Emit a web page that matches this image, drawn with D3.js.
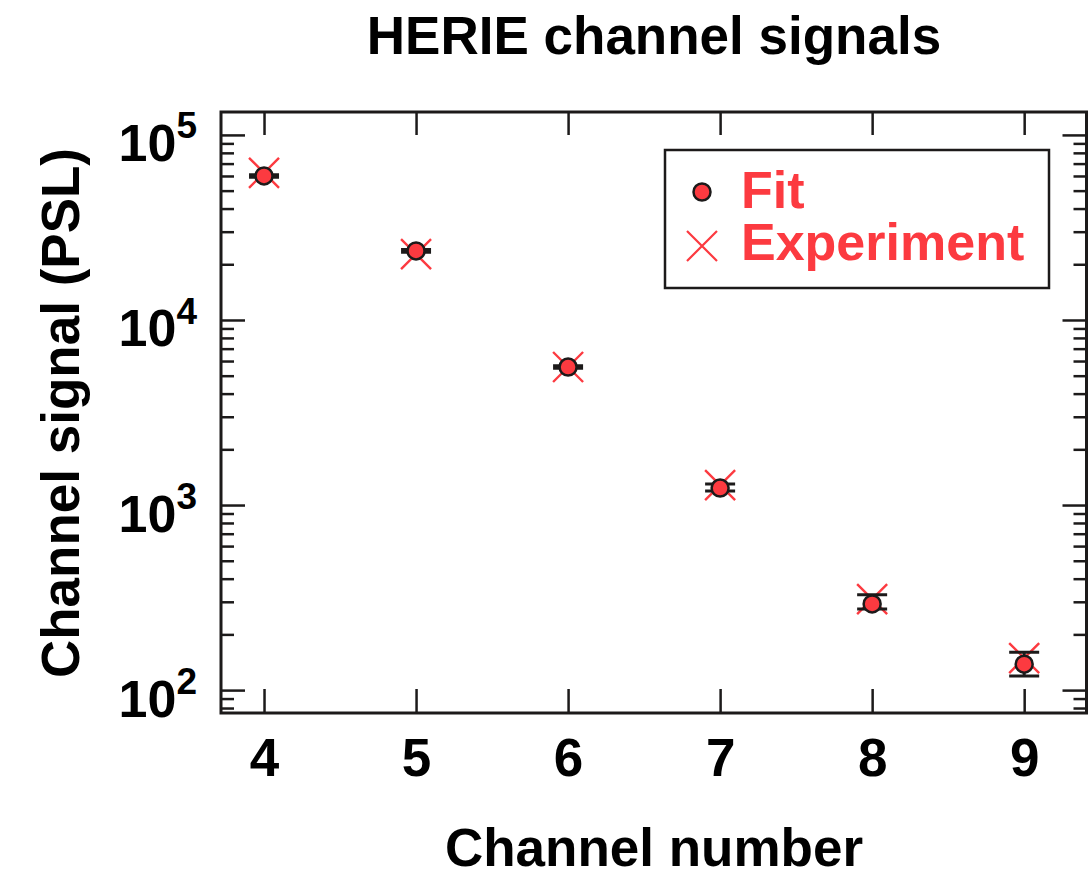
<!DOCTYPE html>
<html>
<head>
<meta charset="utf-8">
<script src="https://cdn.jsdelivr.net/npm/d3@7/dist/d3.min.js"></script>
<style>
  html, body { margin: 0; padding: 0; background: #fff; }
  svg { display: block; }
  text { font-family: "Liberation Sans", Arial, Helvetica, sans-serif; font-weight: bold; }
</style>
</head>
<body>
<svg id="chart" width="1088" height="877"></svg>
<script>
// HERIE channel signals: fitted vs. measured signal per channel (PSL)
const channels   = [4, 5, 6, 7, 8, 9];
const fitValues  = [60000, 23600, 5570, 1236, 292, 138];
const fitErrLow  = [59000, 23200, 5480, 1190, 274, 119];
const fitErrHigh = [61000, 24000, 5660, 1300, 327, 160];
const expValues  = [62400, 22700, 5570, 1282, 310, 149];
const xTicks     = [4, 5, 6, 7, 8, 9];
const yDecades   = [100, 1000, 10000, 100000];
const seriesNames = ["Fit", "Experiment"];

const RED = "#fc3a40";
const INK = "#1c1a1a";

const svg = d3.select("#chart");
const plot = { left: 221, right: 1086.5, top: 112, bottom: 713 };

const x = d3.scaleLinear().domain([3.717, 9.41]).range([plot.left, plot.right]);
const y = d3.scaleLog().domain([75.2, 133000]).range([plot.bottom, plot.top]);

// minor ticks at 2..9 within each decade that fall inside the domain
const yMinor = [];
[10, 100, 1000, 10000, 100000].forEach(d => {
  for (let k = 2; k <= 9; k++) {
    const v = d * k;
    if (v > y.domain()[0] && v < y.domain()[1]) yMinor.push(v);
  }
});

const frame = svg.append("g");

function styleAxis(g) {
  g.select(".domain").remove();
  g.selectAll(".tick line").attr("stroke", INK).attr("stroke-width", 2.5);
}

// bottom axis: inward ticks, labels below
const xAxisBottom = d3.axisBottom(x).tickValues(xTicks).tickSizeInner(-24).tickSizeOuter(0)
  .tickPadding(0).tickFormat(d3.format("d"));
frame.append("g").attr("transform", `translate(0,${plot.bottom})`).call(xAxisBottom)
  .call(styleAxis)
  .call(g => g.selectAll(".tick text")
    .attr("y", 63).attr("dy", null)
    .attr("fill", "#000").style("font-size", "53px"));

// top axis: inward ticks only
frame.append("g").attr("transform", `translate(0,${plot.top})`)
  .call(d3.axisTop(x).tickValues(xTicks).tickSizeInner(-23).tickSizeOuter(0).tickFormat(""))
  .call(styleAxis);

// left axis: decade ticks with power-of-ten labels
const yLeft = frame.append("g").attr("transform", `translate(${plot.left},0)`)
  .call(d3.axisLeft(y).tickValues(yDecades).tickSizeInner(-24).tickSizeOuter(0).tickFormat(""))
  .call(styleAxis);
yLeft.selectAll(".tick").each(function(d) {
  const t = d3.select(this).append("text")
    .attr("x", -24).attr("y", 0).attr("dy", "0.5em")
    .attr("text-anchor", "end").attr("fill", "#000").style("font-size", "52px");
  t.append("tspan").text("10");
  t.append("tspan").text(Math.round(Math.log10(d)))
    .attr("dy", "-0.62em").style("font-size", "37px");
});
frame.append("g").attr("transform", `translate(${plot.left},0)`)
  .call(d3.axisLeft(y).tickValues(yMinor).tickSizeInner(-13).tickSizeOuter(0).tickFormat(""))
  .call(styleAxis);

// right axis: mirrored ticks
frame.append("g").attr("transform", `translate(${plot.right},0)`)
  .call(d3.axisRight(y).tickValues(yDecades).tickSizeInner(-24).tickSizeOuter(0).tickFormat(""))
  .call(styleAxis);
frame.append("g").attr("transform", `translate(${plot.right},0)`)
  .call(d3.axisRight(y).tickValues(yMinor).tickSizeInner(-13).tickSizeOuter(0).tickFormat(""))
  .call(styleAxis);

// plot frame
frame.append("rect")
  .attr("x", plot.left).attr("y", plot.top)
  .attr("width", plot.right - plot.left).attr("height", plot.bottom - plot.top)
  .attr("fill", "none").attr("stroke", INK).attr("stroke-width", 3);

// data
const data = channels.map((c, i) => ({
  c, fit: fitValues[i], lo: fitErrLow[i], hi: fitErrHigh[i], exp: expValues[i]
}));

const marks = svg.append("g");
const CAP = 15, XS = 15;

// experiment crosses
marks.selectAll(".exp").data(data).join("path")
  .attr("class", "exp")
  .attr("d", d => {
    const cx = x(d.c), cy = y(d.exp);
    return `M${cx - XS},${cy - XS}L${cx + XS},${cy + XS}M${cx - XS},${cy + XS}L${cx + XS},${cy - XS}`;
  })
  .attr("stroke", RED).attr("stroke-width", 2.4).attr("fill", "none");

// fit error bars (caps)
const eb = marks.selectAll(".err").data(data).join("g").attr("class", "err");
eb.append("path")
  .attr("d", d => {
    const cx = x(d.c);
    return `M${cx},${y(d.hi)}L${cx},${y(d.lo)}` +
      `M${cx - CAP},${y(d.hi)}L${cx + CAP},${y(d.hi)}` +
      `M${cx - CAP},${y(d.lo)}L${cx + CAP},${y(d.lo)}`;
  })
  .attr("stroke", INK).attr("stroke-width", 3).attr("fill", "none");

// fit markers
marks.selectAll(".fit").data(data).join("circle")
  .attr("class", "fit")
  .attr("cx", d => x(d.c)).attr("cy", d => y(d.fit)).attr("r", 8.5)
  .attr("fill", RED).attr("stroke", INK).attr("stroke-width", 2.5);

// title and axis titles
svg.append("text").attr("x", 654).attr("y", 54).attr("text-anchor", "middle")
  .attr("fill", "#000").style("font-size", "53px").text("HERIE channel signals");
svg.append("text").attr("x", 654).attr("y", 866).attr("text-anchor", "middle")
  .attr("fill", "#000").style("font-size", "53px").text("Channel number");
svg.append("text").attr("transform", "translate(79,413) rotate(-90)")
  .attr("text-anchor", "middle").attr("fill", "#000").style("font-size", "53px")
  .text("Channel signal (PSL)");

// legend
const lg = svg.append("g");
lg.append("rect").attr("x", 665).attr("y", 150).attr("width", 384).attr("height", 138)
  .attr("fill", "#fff").attr("stroke", INK).attr("stroke-width", 2.5);
lg.append("circle").attr("cx", 702).attr("cy", 192).attr("r", 8.5)
  .attr("fill", RED).attr("stroke", INK).attr("stroke-width", 2.5);
lg.append("path")
  .attr("d", `M${702 - XS},${246 - XS}L${702 + XS},${246 + XS}M${702 - XS},${246 + XS}L${702 + XS},${246 - XS}`)
  .attr("stroke", RED).attr("stroke-width", 2.2).attr("fill", "none");
lg.selectAll(".lab").data(seriesNames).join("text")
  .attr("class", "lab")
  .attr("x", 741).attr("y", (d, i) => 208 + i * 52)
  .attr("fill", RED).style("font-size", "52px").text(d => d);
</script>
</body>
</html>
